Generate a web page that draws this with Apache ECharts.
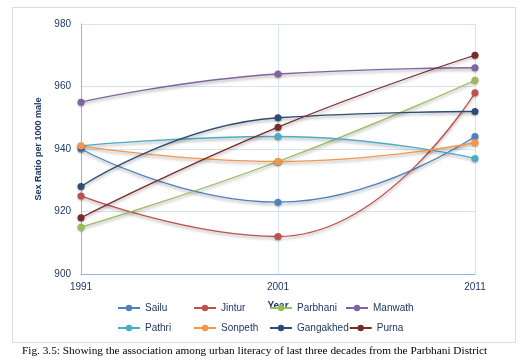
<!DOCTYPE html>
<html><head><meta charset="utf-8">
<script src="https://cdn.jsdelivr.net/npm/echarts@6/dist/echarts.min.js"></script>
<style>html,body{margin:0;padding:0;background:#fff}#c{width:532px;height:363px}</style>
</head><body><div id="c"></div>
<script>
const years = ['1991', '2001', '2011'];
const seriesNames = ['Sailu', 'Jintur', 'Parbhani', 'Manwath', 'Pathri', 'Sonpeth', 'Gangakhed', 'Purna'];
const sailu = [940, 923, 944];
const jintur = [925, 912, 958];
const parbhani = [915, 936, 962];
const manwath = [955, 964, 966];
const pathri = [941, 944, 937];
const sonpeth = [941, 936, 942];
const gangakhed = [928, 950, 952];
const purna = [918, 947, 970];
const colors = ['#4F81BD', '#C0504D', '#9BBB59', '#8064A2', '#4BACC6', '#F79646', '#2C4D75', '#772C2A'];
const allData = [sailu, jintur, parbhani, manwath, pathri, sonpeth, gangakhed, purna];

const chart = echarts.init(document.getElementById('c'), null, {renderer: 'canvas'});
const navy = '#1F3864';
chart.setOption({
  animation: false,
  backgroundColor: '#fff',
  color: colors,
  title: {
    text: 'Fig. 3.5: Showing the association among urban literacy of last three decades from the Parbhani District',
    left: 22, top: 346, padding: 0,
    textStyle: {fontFamily: 'Liberation Serif', fontWeight: 'normal', fontSize: 11.3, color: '#000'}
  },
  graphic: [{
    type: 'rect', shape: {x: 12.5, y: 7.5, width: 503, height: 335},
    style: {fill: 'none', stroke: '#D5DFEC', lineWidth: 1}, silent: true, z: -1
  }],
  grid: {left: 81, right: 57, top: 24, bottom: 89},
  legend: {
    data: seriesNames,
    left: 112, top: 293, width: 310,
    itemWidth: 22, itemHeight: 8, itemGap: 0,
    textStyle: {color: navy, fontFamily: 'Liberation Sans', fontSize: 10, width: 48, height: 20, lineHeight: 20, align: 'left', padding: 0}
  },
  xAxis: {
    type: 'category', data: years, boundaryGap: false,
    name: 'Year', nameLocation: 'middle', nameGap: 27,
    nameTextStyle: {color: navy, fontWeight: 'bold', fontSize: 10, fontFamily: 'Liberation Sans'},
    axisLine: {lineStyle: {color: '#8EB4E3', width: 1}},
    axisTick: {show: false},
    axisLabel: {color: navy, fontSize: 10, fontFamily: 'Liberation Sans', margin: 8},
    splitLine: {show: true, lineStyle: {color: '#D6E3F3', width: 1}}
  },
  yAxis: {
    type: 'value', min: 900, max: 980, interval: 20,
    name: 'Sex Ratio per 1000 male', nameLocation: 'middle', nameGap: 32,
    nameTextStyle: {color: navy, fontWeight: 'bold', fontSize: 9, fontFamily: 'Liberation Sans'},
    axisLine: {show: true, lineStyle: {color: '#8EB4E3', width: 1}},
    axisTick: {show: false},
    axisLabel: {color: navy, fontSize: 10, fontFamily: 'Liberation Sans', margin: 10},
    splitLine: {lineStyle: {color: '#D6E3F3', width: 1}}
  },
  series: seriesNames.map((n, i) => ({
    name: n, type: 'line', data: allData[i], smooth: 0.5,
    symbol: 'circle', symbolSize: 7,
    lineStyle: {width: 1.3, color: colors[i], shadowColor: 'rgba(0,0,0,0.35)', shadowBlur: 3, shadowOffsetY: 2},
    itemStyle: {color: colors[i], shadowColor: 'rgba(0,0,0,0.3)', shadowBlur: 2, shadowOffsetY: 1}
  }))
});
</script></body></html>
